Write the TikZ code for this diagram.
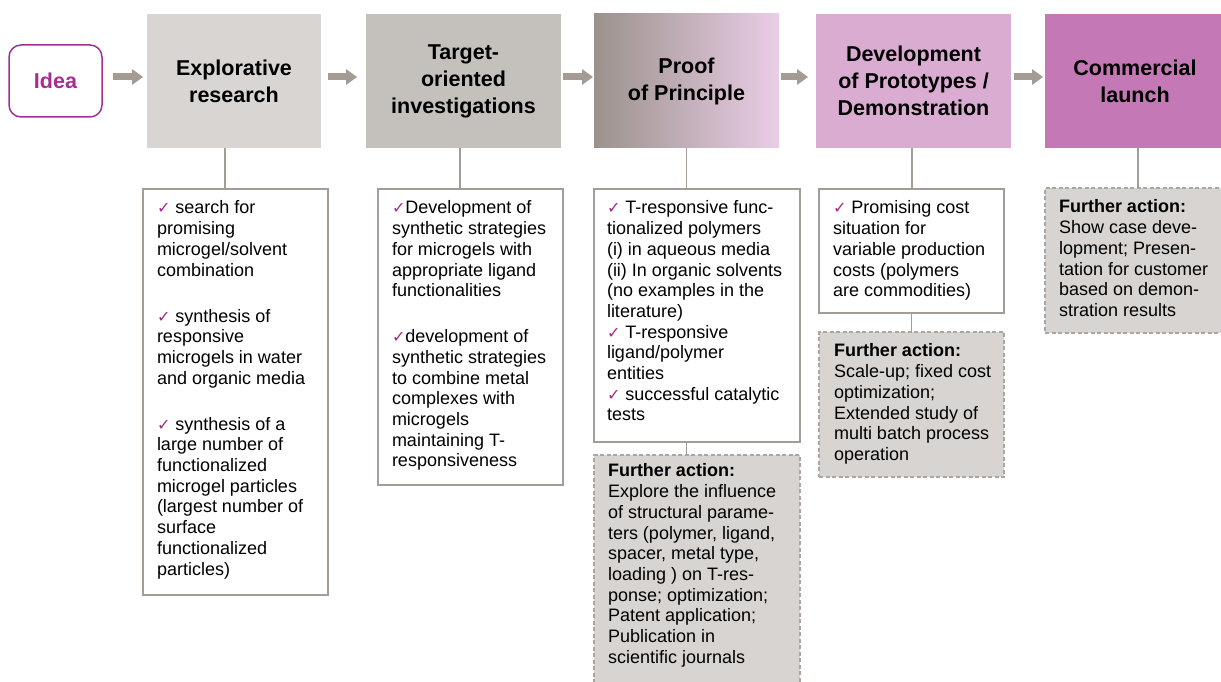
\documentclass[tikz,border=0pt]{standalone}
\usepackage{fontspec}
\setmainfont{Liberation Sans}
\newfontfamily\dejavu{DejaVu Sans}
\usetikzlibrary{arrows.meta,calc}
\definecolor{ideapurple}{HTML}{A3308F}
\definecolor{chkpurple}{HTML}{9C2C89}
\definecolor{arrowgray}{HTML}{A39B94}
\definecolor{boxA}{HTML}{D9D5D2}
\definecolor{boxB}{HTML}{C4C0BB}
\definecolor{proofL}{HTML}{9B928C}
\definecolor{proofR}{HTML}{EACDE6}
\definecolor{boxD}{HTML}{DBACD2}
\definecolor{boxE}{HTML}{C478B5}
\definecolor{edgegray}{HTML}{A39D98}
\definecolor{furtherfill}{HTML}{D8D4D1}
\definecolor{dashgray}{HTML}{ABA6A1}
\newcommand\bodyf{\fontsize{18}{20.7}\selectfont}
\newcommand\hdrf{\fontsize{21.5}{27}\selectfont\bfseries}
\newcommand\mychk{{\dejavu\fontsize{16}{16}\selectfont\color{chkpurple}✓}}
\begin{document}
\begin{tikzpicture}[x=1pt,y=-1pt,
  stagebox/.style={inner sep=0pt,outer sep=0pt,minimum height=134pt,align=center,font=\hdrf},
  contentbox/.style={draw=edgegray,line width=1.2pt,fill=white,inner sep=0pt,outer sep=0pt},
  furtherbox/.style={draw=dashgray,dash pattern=on 4pt off 2.5pt,line width=1.2pt,fill=furtherfill,inner sep=0pt,outer sep=0pt},
  bodytext/.style={anchor=north west,inner sep=0pt,outer sep=0pt,align=left,font=\bodyf},
  flowarrow/.style={draw=arrowgray,line width=7pt,-{Triangle[length=11pt,width=16pt,line width=0pt]}},
  connline/.style={draw=edgegray,line width=1.5pt}
]
\useasboundingbox (0,0) rectangle (1221,682);
% stages
\node[draw=ideapurple,line width=1.5pt,rounded corners=12pt,minimum width=93pt,minimum height=72pt,inner sep=0pt,font=\hdrf,text=ideapurple] (idea) at (55.5,81) {Idea};
\node[stagebox,fill=boxA,minimum width=174pt] (expl) at (234,81) {Explorative\\research};
\node[stagebox,fill=boxB,minimum width=195pt] (targ) at (463.5,81) {Target-\\oriented\\investigations};
\node[stagebox,left color=proofL,right color=proofR,minimum width=185pt] (proof) at (686.5,81) {Proof\\of Principle};
\node[stagebox,fill=boxD,minimum width=195pt] (dev) at (913.5,81) {Development\\of Prototypes /\\Demonstration};
\node[stagebox,fill=boxE,minimum width=180pt] (comm) at (1135,81) {Commercial\\launch};
% arrows
\draw[flowarrow,shorten <=10pt,shorten >=4pt] ([yshift=4pt]idea.east) -- ([yshift=4pt]expl.west);
\draw[flowarrow,shorten <=7pt,shorten >=9pt] ([yshift=4pt]expl.east) -- ([yshift=4pt]targ.west);
\draw[flowarrow,shorten <=2pt,shorten >=1pt] ([yshift=4pt]targ.east) -- ([yshift=4pt]proof.west);
\draw[flowarrow,shorten <=2pt,shorten >=8pt] ([yshift=4pt]proof.east) -- ([yshift=4pt]dev.west);
\draw[flowarrow,shorten <=3pt,shorten >=2pt] ([yshift=4pt]dev.east) -- ([yshift=4pt]comm.west);
% boxes below
\node[contentbox,minimum width=185pt,minimum height=406pt] (c1) at (235.5,392) {};
\node[contentbox,minimum width=185pt,minimum height=296pt] (c2) at (470.5,337) {};
\node[contentbox,minimum width=206pt,minimum height=253pt] (c3) at (697,315.5) {};
\node[furtherbox,minimum width=206pt,minimum height=235pt] (f3) at (697,572.5) {};
\node[contentbox,minimum width=185pt,minimum height=124pt] (c4) at (911.5,251) {};
\node[furtherbox,minimum width=185pt,minimum height=145pt] (f4) at (911.5,404.5) {};
\node[furtherbox,minimum width=180pt,minimum height=145pt] (f5) at (1135,260.5) {};
% connectors
\coordinate (l1) at ([xshift=-9pt]expl.south);
\coordinate (l2) at ([xshift=-3.5pt]targ.south);
\coordinate (l3) at (proof.south);
\coordinate (l4) at ([xshift=-1.5pt]dev.south);
\coordinate (l5) at ([xshift=3pt]comm.south);
\draw[connline] (l1) -- (l1 |- c1.north);
\draw[connline] (l2) -- (l2 |- c2.north);
\draw[connline] (l3) -- (l3 |- c3.north);
\draw[connline] (l3 |- c3.south) -- (l3 |- f3.north);
\draw[connline] (l4) -- (l4 |- c4.north);
\draw[connline] (c4.south) -- (f4.north);
\draw[connline] (l5) -- (l5 |- f5.north);
% texts
\node[bodytext] (t1) at ([xshift=14pt,yshift=-10.5pt]c1.north west) {\strut\mychk{} search for\\promising\\microgel/solvent\\combination\\[25.3pt]\mychk{} synthesis of\\responsive\\microgels in water\\and organic media\\[25.3pt]\mychk{} synthesis of a\\large number of\\functionalized\\microgel particles\\(largest number of\\surface\\functionalized\\particles)};
\node[bodytext] (t2) at ([xshift=14pt,yshift=-10.5pt]c2.north west) {\strut\mychk Development of\\synthetic strategies\\for microgels with\\appropriate ligand\\functionalities\\[25.3pt]\mychk development of\\synthetic strategies\\to combine metal\\complexes with\\microgels\\maintaining T-\\responsiveness};
\node[bodytext] (t3) at ([xshift=13pt,yshift=-10.5pt]c3.north west) {\strut\mychk{} T-responsive func-\\tionalized polymers\\(i) in aqueous media\\(ii) In organic solvents\\(no examples in the\\literature)\\\mychk{} T-responsive\\ligand/polymer\\entities\\\mychk{} successful catalytic\\tests};
\node[bodytext] (t3f) at ([xshift=14pt,yshift=-7.5pt]f3.north west) {\strut\textbf{Further action:}\\Explore the influence\\of structural parame-\\ters (polymer, ligand,\\spacer, metal type,\\loading ) on T-res-\\ponse; optimization;\\Patent application;\\Publication in\\scientific journals};
\node[bodytext] (t4) at ([xshift=14pt,yshift=-10.5pt]c4.north west) {\strut\mychk{} Promising cost\\situation for\\variable production\\costs (polymers\\are commodities)};
\node[bodytext] (t4f) at ([xshift=15pt,yshift=-10.5pt]f4.north west) {\strut\textbf{Further action:}\\Scale-up; fixed cost\\optimization;\\Extended study of\\multi batch process\\operation};
\node[bodytext] (t5f) at ([xshift=14pt,yshift=-10.5pt]f5.north west) {\strut\textbf{Further action:}\\Show case deve-\\lopment; Presen-\\tation for customer\\based on demon-\\stration results};
\end{tikzpicture}
\end{document}
